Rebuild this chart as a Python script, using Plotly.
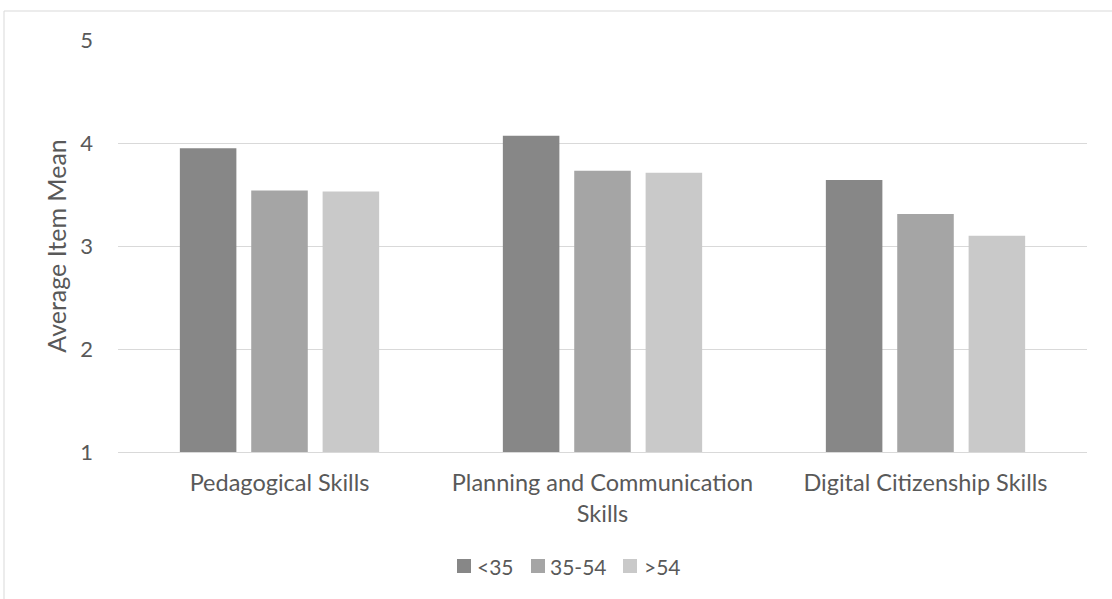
import plotly.graph_objects as go

# Survey results: average item mean by age group
categories = ["Pedagogical Skills", "Planning and Communication<br>Skills", "Digital Citizenship Skills"]
age_groups = ["<35", "35-54", ">54"]
under_35 = [3.95, 4.07, 3.64]
age_35_54 = [3.54, 3.73, 3.31]
over_54 = [3.53, 3.71, 3.10]
y_ticks = [1, 2, 3, 4, 5]

series = [under_35, age_35_54, over_54]
colors = ["#878787", "#a5a5a5", "#c9c9c9"]

FONT = "Lato, 'Open Sans', sans-serif"
TEXT = "#595959"

# plot area in pixels (used to place the hand-built legend)
W, H = 1112, 599
ML, MR, MT, MB = 118, 25, 40, 147
PW, PH = W - ML - MR, H - MT - MB


def px_x(px):
    return (px - ML) / PW


def px_y(py):
    return (H - MB - py) / PH


fig = go.Figure()
for name, vals, col in zip(age_groups, series, colors):
    fig.add_trace(go.Bar(
        x=categories, y=vals, name=name,
        marker=dict(color=col, line=dict(width=0)),
    ))

# legend: square swatch followed by its label
legend_square_left = [457, 531, 623]
legend_text_left = [475, 548, 642]
legend_cy = 566
shapes = []
annotations = []
for name, col, sx, tx in zip(age_groups, colors, legend_square_left, legend_text_left):
    shapes.append(dict(type="rect", xref="paper", yref="paper",
                       x0=px_x(sx), x1=px_x(sx + 14),
                       y0=px_y(legend_cy + 7), y1=px_y(legend_cy - 7),
                       fillcolor=col, line=dict(width=0)))
    annotations.append(dict(xref="paper", yref="paper", x=px_x(tx), y=px_y(legend_cy),
                            xanchor="left", yanchor="middle", text=name, showarrow=False,
                            font=dict(family=FONT, size=21, color=TEXT)))

# light chart-area frame
shapes += [
    dict(type="line", xref="paper", yref="paper", x0=px_x(4), x1=px_x(1140),
         y0=px_y(11), y1=px_y(11), line=dict(color="#d9d9d9", width=1)),
    dict(type="line", xref="paper", yref="paper", x0=px_x(4), x1=px_x(4),
         y0=px_y(11), y1=px_y(640), line=dict(color="#d9d9d9", width=1)),
]

fig.update_layout(
    width=W, height=H,
    margin=dict(l=ML, r=MR, t=MT, b=MB),
    paper_bgcolor="white", plot_bgcolor="white",
    barmode="group", bargap=0.337, bargroupgap=0.208,
    font=dict(family=FONT, size=23, color=TEXT),
    showlegend=False,
    xaxis=dict(
        showgrid=False, showline=True, linecolor="#d9d9d9", linewidth=1,
        ticks="", tickfont=dict(size=23.5, color=TEXT), ticklabelstandoff=10,
    ),
    yaxis=dict(
        range=[1, 5], tickvals=y_ticks, showgrid=True, gridcolor="#d9d9d9",
        gridwidth=1, zeroline=False, showline=False, ticks="",
        tickfont=dict(size=22, color=TEXT), ticklabelstandoff=24,
        title=dict(text="Average Item Mean", font=dict(size=25, color=TEXT), standoff=6),
    ),
    shapes=shapes,
    annotations=annotations,
)

fig.write_html("out.html")
